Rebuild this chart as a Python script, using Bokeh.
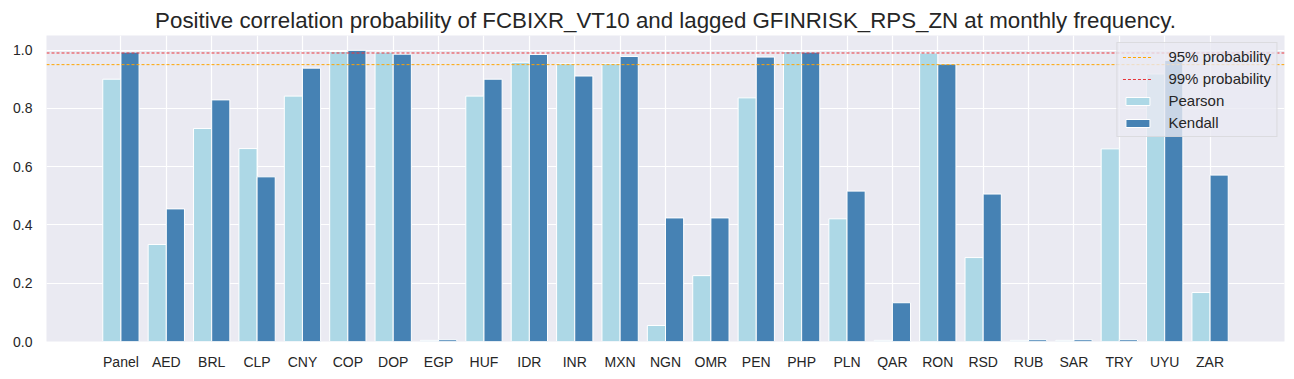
from bokeh.plotting import figure
from bokeh.models import FixedTicker, Range1d, ColumnDataSource, Legend, LegendItem, Span
from bokeh.embed import file_html
from bokeh.resources import INLINE

categories = ["Panel", "AED", "BRL", "CLP", "CNY", "COP", "DOP", "EGP", "HUF", "IDR",
              "INR", "MXN", "NGN", "OMR", "PEN", "PHP", "PLN", "QAR", "RON", "RSD",
              "RUB", "SAR", "TRY", "UYU", "ZAR"]
pearson = [0.900, 0.333, 0.731, 0.662, 0.842, 0.995, 0.993, 0.004, 0.842, 0.958,
           0.953, 0.953, 0.055, 0.226, 0.836, 0.995, 0.421, 0.004, 0.990, 0.288,
           0.004, 0.004, 0.661, 0.918, 0.168]
kendall = [0.993, 0.455, 0.829, 0.565, 0.938, 0.999, 0.986, 0.006, 0.900, 0.985,
           0.911, 0.978, 0.424, 0.424, 0.976, 0.993, 0.516, 0.133, 0.952, 0.506,
           0.006, 0.006, 0.006, 0.965, 0.571]
thresholds = [0.95, 0.99]
threshold_labels = ["95% probability", "99% probability"]
threshold_colors = ["orange", "#e8353b"]

FONT = "Liberation Sans"
TXT = "#262626"

pos = list(range(len(categories)))
src = ColumnDataSource(dict(
    xp=[i - 0.2 for i in pos], xk=[i + 0.2 for i in pos], p=pearson, k=kendall))

p = figure(width=1294, height=379, output_backend="svg", toolbar_location=None,
           x_range=Range1d(-1.64, len(categories) - 1 + 1.64), y_range=Range1d(0, 1.05),
           min_border_left=46, min_border_right=10, min_border_top=35, min_border_bottom=38)

p.background_fill_color = "#EAEAF2"
p.border_fill_color = "white"
p.outline_line_color = None

p.title.text = "Positive correlation probability of FCBIXR_VT10 and lagged GFINRISK_RPS_ZN at monthly frequency."
p.title.align = "center"
p.title.text_font = FONT
p.title.text_font_size = "22.3px"
p.title.text_font_style = "normal"
p.title.text_color = TXT
p.title.offset = 0
p.title.standoff = 5

p.xgrid.grid_line_color = "white"
p.ygrid.grid_line_color = "white"
p.xgrid.grid_line_width = 1.2
p.ygrid.grid_line_width = 1.2
p.xaxis.ticker = FixedTicker(ticks=pos)
p.xaxis.major_label_overrides = {i: c for i, c in enumerate(categories)}
p.yaxis.ticker = FixedTicker(ticks=[0, 0.2, 0.4, 0.6, 0.8, 1.0])
p.yaxis.major_label_overrides = {0: "0.0", 0.2: "0.2", 0.4: "0.4", 0.6: "0.6", 0.8: "0.8", 1.0: "1.0"}
for ax in (p.xaxis, p.yaxis):
    ax.axis_line_color = None
    ax.major_tick_line_color = None
    ax.minor_tick_line_color = None
    ax.major_tick_out = 0
    ax.major_tick_in = 0
    ax.major_label_text_font = FONT
    ax.major_label_text_font_size = "14px"
    ax.major_label_text_color = TXT
p.xaxis.major_label_standoff = 12
p.yaxis.major_label_standoff = 14

rp = p.vbar(x="xp", top="p", width=0.4, source=src, fill_color="#ADD8E6", line_color="white", line_width=1)
rk = p.vbar(x="xk", top="k", width=0.4, source=src, fill_color="#4682B4", line_color="white", line_width=1)

items = []
for t, lab, col in zip(thresholds, threshold_labels, threshold_colors):
    p.add_layout(Span(location=t, dimension="width", line_color=col, line_width=1, line_dash="3 2"))
    # single-point line: draws nothing in the frame, but provides the legend glyph
    r = p.line(x=[pos[0]], y=[t], line_color=col, line_width=1, line_dash="3 2")
    items.append(LegendItem(label=lab, renderers=[r]))
items.append(LegendItem(label="Pearson", renderers=[rp]))
items.append(LegendItem(label="Kendall", renderers=[rk]))

legend = Legend(items=items, location="top_right", margin=7, padding=5, spacing=5,
                label_text_font=FONT, label_text_font_size="15px", label_text_color=TXT,
                glyph_width=30, glyph_height=10, label_height=17, label_standoff=16,
                background_fill_color="#EAEAF2", background_fill_alpha=0.8,
                border_line_color="#cccccc", border_line_width=1)
p.add_layout(legend, "center")

open("out.html", "w").write(file_html(p, INLINE))
